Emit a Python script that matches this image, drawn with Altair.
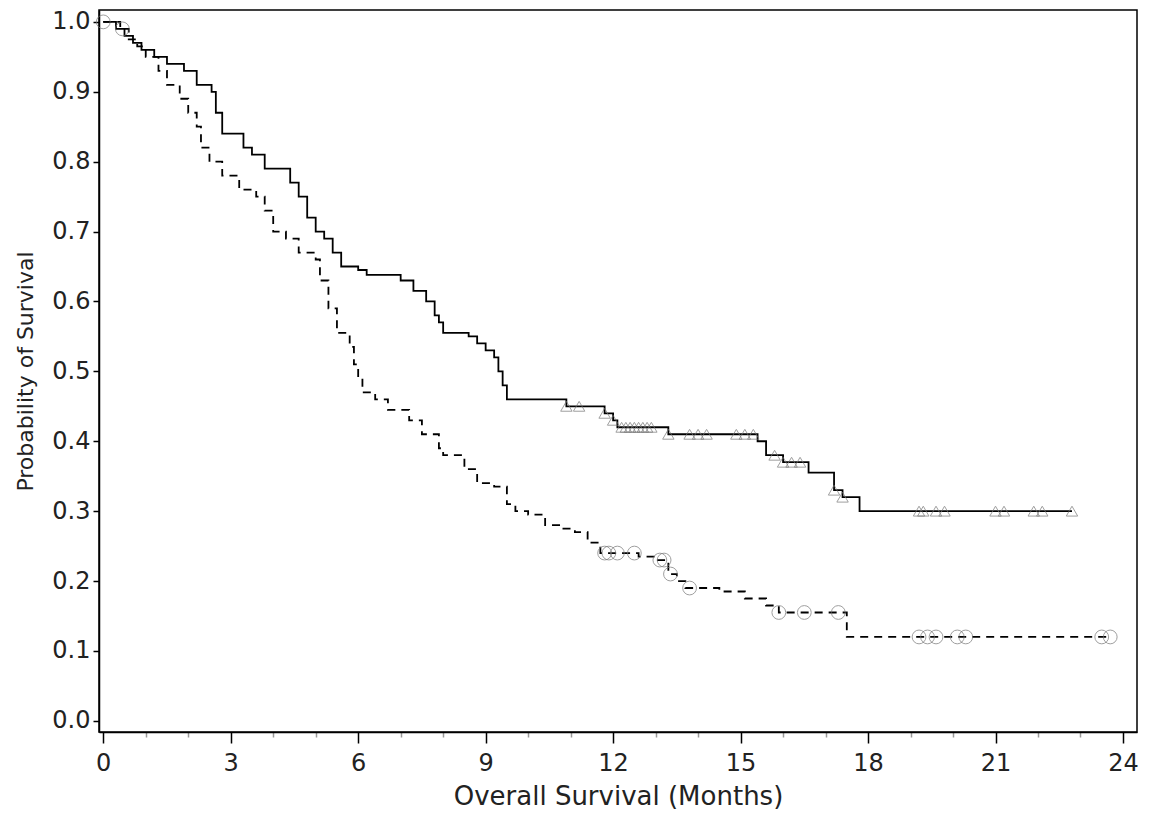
import altair as alt
import pandas as pd

# Solid arm: event times (months) and survival after each step
solid_t = [0, 0.3, 0.5, 0.7, 0.9, 1.2, 1.5, 1.9, 2.2, 2.55, 2.65, 2.8, 3.3, 3.5, 3.8, 4.4, 4.6, 4.8, 5.0,
           5.2, 5.4, 5.6, 6.0, 6.2, 7.0, 7.3, 7.6, 7.8, 7.9, 8.0, 8.6, 8.8, 9.0, 9.2, 9.3,
           9.4, 9.5, 10.9, 11.8, 12.0, 12.1, 13.3, 15.4, 15.6, 16.0, 16.6, 17.2, 17.4, 17.8, 22.8]
solid_s = [1.0, 0.99, 0.98, 0.97, 0.96, 0.95, 0.94, 0.93, 0.91, 0.90, 0.87, 0.84, 0.82, 0.81, 0.79, 0.77, 0.75, 0.72, 0.70,
           0.69, 0.67, 0.65, 0.645, 0.638, 0.63, 0.615, 0.60, 0.58, 0.57, 0.555, 0.55, 0.54, 0.53, 0.52, 0.50,
           0.48, 0.46, 0.45, 0.44, 0.43, 0.42, 0.41, 0.40, 0.38, 0.37, 0.355, 0.33, 0.32, 0.30, 0.30]
solid_cens = [10.9, 11.2, 11.8, 12.0, 12.2, 12.3, 12.4, 12.5, 12.6, 12.7, 12.8, 12.9, 13.3, 13.8,
              14.0, 14.2, 14.9, 15.1, 15.3, 15.8, 16.0, 16.2, 16.4, 17.2, 17.4, 19.2, 19.3, 19.6,
              19.8, 21.0, 21.2, 21.9, 22.1, 22.8]

# Dashed arm
dash_t = [0, 0.4, 0.6, 0.8, 1.0, 1.3, 1.5, 1.8, 2.0, 2.2, 2.3, 2.5, 2.8, 3.2, 3.6, 3.8, 4.0,
          4.3, 4.6, 5.0, 5.1, 5.3, 5.5, 5.8, 5.9, 6.0, 6.1, 6.4, 6.7, 7.2, 7.5, 7.9, 8.0, 8.5,
          8.8, 9.2, 9.5, 9.7, 10.0, 10.4, 10.8, 11.1, 11.4, 11.7, 12.6, 13.0, 13.3, 13.5, 13.7,
          14.5, 15.1, 15.6, 15.9, 17.5, 23.7]
dash_s = [1.0, 0.99, 0.975, 0.965, 0.95, 0.93, 0.91, 0.89, 0.87, 0.85, 0.82, 0.80, 0.78, 0.76, 0.75, 0.73, 0.70,
          0.69, 0.67, 0.66, 0.63, 0.59, 0.555, 0.535, 0.51, 0.49, 0.47, 0.46, 0.445, 0.43, 0.41, 0.39, 0.38, 0.36,
          0.34, 0.335, 0.31, 0.30, 0.295, 0.28, 0.275, 0.27, 0.255, 0.24, 0.235, 0.23, 0.21, 0.20, 0.19,
          0.185, 0.175, 0.165, 0.155, 0.12, 0.12]
dash_cens = [0, 0.45, 11.8, 11.9, 12.1, 12.5, 13.1, 13.2, 13.35, 13.8, 15.9, 16.5, 17.3, 19.2,
             19.4, 19.6, 20.1, 20.3, 23.5, 23.7]


def surv_at(ts, ss, t):
    val = ss[0]
    for ti, si in zip(ts, ss):
        if ti <= t:
            val = si
    return val


lines = pd.concat([
    pd.DataFrame({"t": solid_t, "s": solid_s, "arm": "A"}),
    pd.DataFrame({"t": dash_t, "s": dash_s, "arm": "B"}),
])
tri = pd.DataFrame({"t": solid_cens, "s": [surv_at(solid_t, solid_s, t) for t in solid_cens]})
circ = pd.DataFrame({"t": dash_cens, "s": [surv_at(dash_t, dash_s, t) for t in dash_cens]})

FONT = "DejaVu Sans"
TXT = "#222"
x = alt.X("t:Q", title="Overall Survival (Months)",
          scale=alt.Scale(domain=[-0.1, 24.33], nice=False, zero=False),
          axis=alt.Axis(values=list(range(0, 25)), labelExpr="datum.value % 3 == 0 ? datum.label : ''",
                        grid=False, domainColor="black", domainWidth=1.5,
                        tickSize={"condition": {"test": "datum.value % 3 == 0", "value": 11}, "value": 5},
                        tickColor={"condition": {"test": "datum.value % 3 == 0", "value": "black"}, "value": "#999"},
                        tickWidth=1.5,
                        labelColor=TXT, titleColor=TXT, labelFontSize=24, titleFontSize=26,
                        labelFont=FONT, titleFont=FONT, titleFontWeight="normal",
                        labelPadding=8, titlePadding=8))
y = alt.Y("s:Q", title="Probability of Survival",
          scale=alt.Scale(domain=[-0.016, 1.017], nice=False, zero=False),
          axis=alt.Axis(values=[i / 10 for i in range(11)], format=".1f", grid=False,
                        tickColor="black", domainColor="black", tickSize=6, tickWidth=1.5, domainWidth=1.5,
                        labelColor=TXT, titleColor=TXT, labelFontSize=24, titleFontSize=22,
                        labelFont=FONT, titleFont=FONT, titleFontWeight="normal",
                        labelPadding=3, titlePadding=14))

line = alt.Chart(lines).mark_line(interpolate="step-after", color="black", strokeWidth=1.8).encode(
    x=x, y=y,
    strokeDash=alt.StrokeDash("arm:N", scale=alt.Scale(domain=["A", "B"], range=[[1, 0], [8, 6]]), legend=None),
    detail="arm:N",
)
tri_mark = alt.Chart(tri).mark_point(shape="triangle-up", color="#777", size=130, strokeWidth=1, filled=False).encode(
    x=x, y=y)
circ_mark = alt.Chart(circ).mark_point(shape="circle", color="#777", size=190, strokeWidth=1, filled=False).encode(
    x=x, y=y)

chart = alt.layer(line, tri_mark, circ_mark).properties(
    width=1038, height=722, background="white", padding={"left": 6, "top": 1, "right": 2, "bottom": 5}
).configure_view(stroke="black", strokeWidth=1.5)

chart.save("out.html", embed_options={"renderer": "svg", "actions": False})
